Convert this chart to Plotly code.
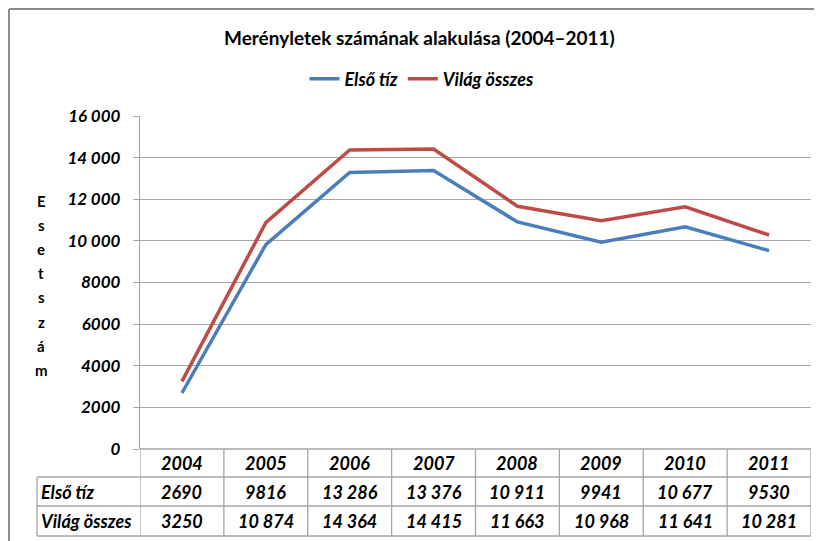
import plotly.graph_objects as go

# ---------------- data ----------------
years = ["2004", "2005", "2006", "2007", "2008", "2009", "2010", "2011"]
elso_tiz = [2690, 9816, 13286, 13376, 10911, 9941, 10677, 9530]
vilag_osszes = [3250, 10874, 14364, 14415, 11663, 10968, 11641, 10281]
series_names = ["Első tíz", "Világ összes"]
series_colors = ["#4a7ebb", "#be4b48"]
y_tick_vals = [0, 2000, 4000, 6000, 8000, 10000, 12000, 14000, 16000]
y_tick_text = ["0", "2000", "4000", "6000", "8000", "10 000", "12 000", "14 000", "16 000"]
chart_title = "Merényletek számának alakulása (2004–2011)"
y_title = "Esetszám"

W, H = 822, 541
OFF = 8  # page body margin; layout positions below are given in page pixels
FONT = "Lato"
GRID = "#a6a6a6"


def px(x):
    return (x - OFF) / W


def py(y):
    return 1 - (y - OFF) / H


def fmt(v):
    return f"{v:,}".replace(",", " ") if v >= 10000 else str(v)


# plot area in page pixels
PL, PR, PT, PB = 140, 811, 116, 449
# table rows (page pixel boundaries)
ROWS = [449, 477, 506, 536]
TABLE_LEFT = 37

fig = go.Figure()
for name, vals, col in zip(series_names, [elso_tiz, vilag_osszes], series_colors):
    fig.add_trace(go.Scatter(x=list(range(len(years))), y=vals, name=name, mode="lines",
                             line=dict(color=col, width=3.5), text=years,
                             hovertemplate="%{text}: %{y}<extra>" + name + "</extra>"))

shapes = []
annotations = []

# outer border (top & left visible)
shapes.append(dict(type="line", xref="paper", yref="paper", x0=px(OFF + 1), x1=px(W + OFF + 5),
                   y0=py(OFF + 1), y1=py(OFF + 1), line=dict(color="#8c8c8c", width=2)))
shapes.append(dict(type="line", xref="paper", yref="paper", x0=px(OFF + 1), x1=px(OFF + 1),
                   y0=py(OFF + 1), y1=py(H + OFF + 5), line=dict(color="#8c8c8c", width=2)))

# table horizontal lines
for i, yy in enumerate(ROWS):
    x0 = PL if i == 0 else TABLE_LEFT
    shapes.append(dict(type="line", xref="paper", yref="paper", x0=px(x0), x1=px(PR),
                       y0=py(yy), y1=py(yy), line=dict(color=GRID, width=1.3)))
# table vertical lines (column boundaries)
for i in range(len(years) + 1):
    shapes.append(dict(type="line", xref="x", yref="paper", x0=i - 0.5, x1=i - 0.5,
                       y0=py(ROWS[0]), y1=py(ROWS[-1]), line=dict(color=GRID, width=1.3)))
shapes.append(dict(type="line", xref="paper", yref="paper", x0=px(TABLE_LEFT), x1=px(TABLE_LEFT),
                   y0=py(ROWS[1]), y1=py(ROWS[-1]), line=dict(color=GRID, width=1.3)))

cell_font = dict(family=FONT, size=18, color="#000000", weight="bold", style="italic")

# header row (years)
for i, yr in enumerate(years):
    annotations.append(dict(x=i, xref="x", y=py((ROWS[0] + ROWS[1]) / 2), yref="paper",
                            text=yr, showarrow=False, font=cell_font, xanchor="center", yanchor="middle"))
# data rows
for r, (name, vals) in enumerate(zip(series_names, [elso_tiz, vilag_osszes])):
    yc = py((ROWS[r + 1] + ROWS[r + 2]) / 2)
    annotations.append(dict(x=px(TABLE_LEFT + 2), xref="paper", y=yc, yref="paper", text=name,
                            showarrow=False, font=cell_font, xanchor="left", yanchor="middle"))
    for i, v in enumerate(vals):
        annotations.append(dict(x=i, xref="x", y=yc, yref="paper", text=fmt(v), showarrow=False,
                                font=cell_font, xanchor="center", yanchor="middle"))

# title
annotations.append(dict(x=px(419), xref="paper", y=py(37), yref="paper", text=chart_title,
                        showarrow=False, xanchor="center", yanchor="middle",
                        font=dict(family=FONT, size=19, color="#000000", weight="bold")))

# vertical stacked y-axis title
for k, ch in enumerate(y_title):
    annotations.append(dict(x=px(41), xref="paper", y=py(201 + k * 24.1), yref="paper", text=ch,
                            showarrow=False, xanchor="center", yanchor="middle",
                            font=dict(family=FONT, size=15, color="#000000", weight="bold")))

fig.update_layout(
    template="none",
    width=W, height=H,
    margin=dict(l=0, r=0, t=0, b=0, pad=0, autoexpand=False),
    paper_bgcolor="white", plot_bgcolor="white",
    showlegend=True,
    legend=dict(orientation="h", x=px(422), xanchor="center", y=py(79), yanchor="middle",
                font=dict(family=FONT, size=18, color="#000000", weight="bold", style="italic"),
                itemwidth=30, tracegroupgap=0, bgcolor="rgba(0,0,0,0)", borderwidth=0),
    xaxis=dict(domain=[px(PL), px(PR)], range=[-0.5, len(years) - 0.5], automargin=False,
               showticklabels=False, showgrid=False, zeroline=False, showline=False, ticks=""),
    yaxis=dict(domain=[py(PB), py(PT)], range=[0, 16000], tickvals=y_tick_vals, ticktext=y_tick_text,
               automargin=False,
               showgrid=True, gridcolor=GRID, gridwidth=1.3, zeroline=False,
               showline=True, linecolor=GRID, linewidth=1.3,
               ticks="outside", ticklen=6, tickcolor=GRID, tickwidth=1.3, ticklabelstandoff=9,
               tickfont=dict(family=FONT, size=17, color="#000000", weight="bold", style="italic")),
    shapes=shapes,
    annotations=annotations,
    font=dict(family=FONT),
)

fig.write_html("out.html")
